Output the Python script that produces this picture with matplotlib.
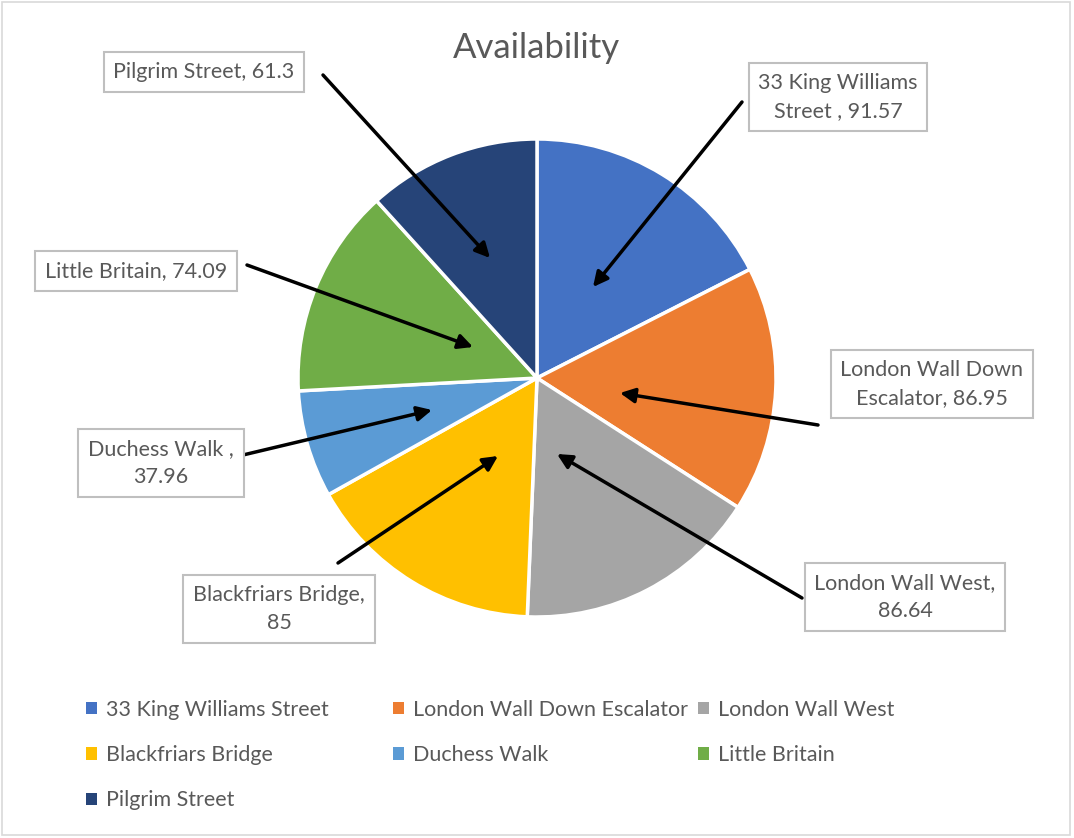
import matplotlib.pyplot as plt
from matplotlib.patches import Rectangle

# data
names = ["33 King Williams Street", "London Wall Down Escalator", "London Wall West",
         "Blackfriars Bridge", "Duchess Walk", "Little Britain", "Pilgrim Street"]
values = [91.57, 86.95, 86.64, 85, 37.96, 74.09, 61.3]
label_text = ["33 King Williams\nStreet , 91.57", "London Wall Down\nEscalator, 86.95",
              "London Wall West,\n86.64", "Blackfriars Bridge,\n85", "Duchess Walk ,\n37.96",
              "Little Britain, 74.09", "Pilgrim Street, 61.3"]
colors = ["#4472C4", "#ED7D31", "#A5A5A5", "#FFC000", "#5B9BD5", "#70AD47", "#264478"]

W, H = 1074, 838
plt.rcParams['font.family'] = ['Lato', 'DejaVu Sans']
txt = "#595959"
fs = 15.5

fig = plt.figure(figsize=(W / 100, H / 100), dpi=100)
ax = fig.add_axes([0, 0, 1, 1])

def Y(y):
    return H - y

wedges, _ = ax.pie(values, colors=colors, startangle=90, counterclock=False,
                   center=(537, Y(378)), radius=239, frame=True,
                   wedgeprops=dict(edgecolor='white', linewidth=2.5))
ax.set_xlim(0, W)
ax.set_ylim(0, H)
ax.set_aspect('equal')
ax.axis('off')

ax.text(536, Y(48), "Availability", ha='center', va='center', fontsize=25, color=txt)

# callouts: box centre, arrow start, arrow tip (pixels from top-left)
callouts = [
    ((838, 97), (742, 102), (593, 287)),
    ((932, 384), (818, 425), (620, 393)),
    ((905, 597), (802, 598), (557, 454)),
    ((279, 609), (338, 563), (498, 456)),
    ((161, 463), (243, 455), (432, 410)),
    ((136, 271), (247, 265), (473, 347)),
    ((204, 72), (323, 75), (490, 258)),
]
for lab, (c, s, t) in zip(label_text, callouts):
    ax.annotate("", xy=(t[0], Y(t[1])), xytext=(s[0], Y(s[1])),
                arrowprops=dict(arrowstyle='-|>', color='black', lw=2.5,
                                mutation_scale=22, shrinkA=0, shrinkB=0))
    ax.text(c[0], Y(c[1]), lab, ha='center', va='center', fontsize=fs, color=txt,
            linespacing=1.5,
            bbox=dict(boxstyle='square,pad=0.45', fc='white', ec='#BFBFBF', lw=1.5))

# legend, row-wise in three columns
cols = [[0, 3, 6], [1, 4], [2, 5]]
for cx, idx in zip([86, 393, 698], cols):
    leg = fig.legend([wedges[i] for i in idx], [names[i] for i in idx],
                     loc='upper left', bbox_to_anchor=(cx / W, 1 - 700 / H),
                     frameon=False, fontsize=fs, labelcolor=txt,
                     handlelength=0.5, handleheight=0.5, handletextpad=0.45,
                     labelspacing=1.17, borderpad=0, borderaxespad=0)
    for h in leg.legend_handles:
        h.set_edgecolor('none')

fig.patches.append(Rectangle((0.002, 0.004), 0.994, 0.994, transform=fig.transFigure,
                             fill=False, ec='#D9D9D9', lw=1.2))

fig.savefig("out.png", dpi=100)
